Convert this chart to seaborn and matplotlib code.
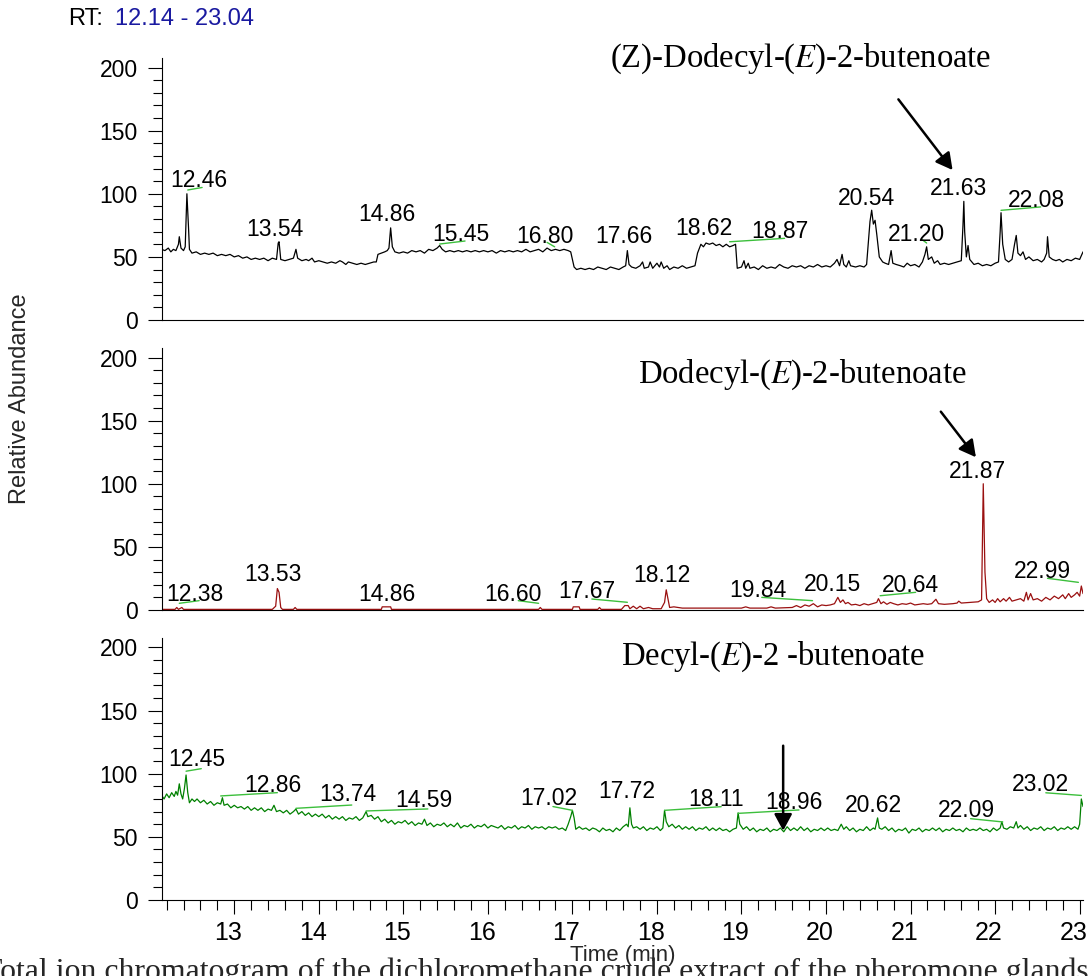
import matplotlib
matplotlib.use("Agg")
import matplotlib.pyplot as plt
from matplotlib.ticker import MultipleLocator
from matplotlib.transforms import ScaledTranslation
import pandas as pd
import seaborn as sns

# ── Data ──────────────────────────────────────────────────────────────────────
# Trace A: (Z)-Dodecyl-(E)-2-butenoate run, (time min, relative abundance)
TRACE_A = [
    (12.14, 56), (12.18, 55), (12.22, 57), (12.25, 54), (12.28, 56), (12.31, 55), (12.34, 60),
    (12.35, 66), (12.37, 57), (12.40, 55), (12.42, 58), (12.44, 100), (12.46, 72), (12.47, 56),
    (12.50, 53), (12.55, 54), (12.60, 52), (12.65, 53), (12.70, 52), (12.75, 53), (12.80, 51),
    (12.85, 52), (12.90, 51), (12.95, 52), (13.00, 50), (13.05, 51), (13.10, 49), (13.15, 50),
    (13.20, 48), (13.25, 49), (13.30, 48), (13.35, 49), (13.40, 47), (13.45, 49), (13.50, 48),
    (13.52, 61), (13.53, 62), (13.55, 48), (13.60, 47), (13.65, 48), (13.70, 49), (13.73, 56),
    (13.75, 49), (13.80, 47), (13.85, 48), (13.88, 47), (13.92, 49), (13.95, 46), (14.00, 47),
    (14.05, 46), (14.10, 45), (14.15, 46), (14.20, 45), (14.25, 47), (14.28, 46), (14.32, 44),
    (14.35, 46), (14.40, 45), (14.45, 44), (14.50, 45), (14.55, 44), (14.60, 45), (14.65, 46),
    (14.68, 46), (14.70, 52), (14.74, 53), (14.78, 54), (14.81, 55), (14.83, 57), (14.85, 73),
    (14.87, 58), (14.90, 54), (14.95, 53), (15.00, 54), (15.05, 53), (15.10, 55), (15.15, 54),
    (15.20, 55), (15.25, 53), (15.30, 56), (15.35, 55), (15.40, 57), (15.43, 59), (15.46, 56),
    (15.50, 54), (15.55, 55), (15.60, 54), (15.65, 55), (15.70, 54), (15.75, 55), (15.80, 54),
    (15.85, 55), (15.90, 54), (15.95, 55), (16.00, 54), (16.05, 55), (16.10, 53), (16.15, 55),
    (16.20, 54), (16.25, 55), (16.30, 54), (16.35, 55), (16.40, 54), (16.45, 56), (16.50, 54),
    (16.55, 55), (16.60, 56), (16.65, 54), (16.70, 57), (16.75, 55), (16.80, 56), (16.85, 55),
    (16.90, 56), (16.95, 55), (16.98, 54), (17.02, 42), (17.05, 40), (17.10, 41), (17.15, 40),
    (17.20, 41), (17.25, 40), (17.30, 42), (17.35, 41), (17.40, 40), (17.45, 42), (17.50, 41),
    (17.55, 40), (17.60, 42), (17.63, 43), (17.65, 55), (17.67, 44), (17.70, 42), (17.75, 41),
    (17.80, 43), (17.83, 46), (17.85, 41), (17.90, 42), (17.92, 46), (17.95, 41), (18.00, 45),
    (18.03, 42), (18.05, 46), (18.08, 41), (18.12, 43), (18.15, 40), (18.20, 42), (18.25, 41),
    (18.30, 43), (18.35, 41), (18.40, 42), (18.45, 43), (18.48, 53), (18.52, 60), (18.55, 58),
    (18.58, 61), (18.62, 60), (18.66, 61), (18.70, 59), (18.74, 60), (18.78, 58), (18.82, 60),
    (18.86, 58), (18.90, 59), (18.93, 60), (18.95, 41), (19.00, 42), (19.03, 47), (19.05, 41),
    (19.08, 45), (19.10, 41), (19.15, 42), (19.20, 40), (19.25, 43), (19.30, 41), (19.35, 42),
    (19.40, 41), (19.45, 44), (19.50, 42), (19.55, 41), (19.60, 43), (19.65, 42), (19.70, 43),
    (19.75, 41), (19.80, 43), (19.85, 42), (19.90, 44), (19.95, 42), (20.00, 43), (20.05, 42),
    (20.10, 45), (20.13, 48), (20.16, 43), (20.19, 52), (20.21, 44), (20.24, 42), (20.27, 47),
    (20.29, 43), (20.35, 42), (20.40, 43), (20.45, 42), (20.48, 44), (20.52, 78), (20.54, 87),
    (20.56, 76), (20.58, 79), (20.60, 68), (20.63, 50), (20.67, 46), (20.70, 45), (20.74, 44),
    (20.77, 55), (20.79, 45), (20.83, 44), (20.88, 43), (20.92, 42), (20.96, 45), (21.00, 43),
    (21.05, 44), (21.10, 42), (21.14, 46), (21.17, 52), (21.19, 58), (21.21, 48), (21.25, 50),
    (21.28, 45), (21.32, 47), (21.35, 44), (21.40, 45), (21.45, 44), (21.50, 45), (21.55, 46),
    (21.60, 47), (21.62, 75), (21.63, 94), (21.64, 70), (21.66, 50), (21.68, 59), (21.70, 48),
    (21.75, 44), (21.80, 45), (21.85, 43), (21.90, 44), (21.95, 43), (22.00, 45), (22.04, 46),
    (22.06, 70), (22.07, 85), (22.09, 60), (22.12, 48), (22.16, 46), (22.20, 48), (22.23, 60),
    (22.25, 67), (22.27, 53), (22.30, 51), (22.33, 54), (22.36, 48), (22.40, 50), (22.45, 47),
    (22.50, 48), (22.55, 46), (22.58, 48), (22.61, 53), (22.62, 66), (22.64, 50), (22.68, 48),
    (22.72, 47), (22.76, 48), (22.80, 46), (22.85, 48), (22.90, 47), (22.95, 49), (23.00, 48),
    (23.04, 54),
]

# Trace B: Dodecyl-(E)-2-butenoate run
TRACE_B = [
    (12.14, 0.5), (12.30, 0.5), (12.32, 2), (12.34, 0.5), (12.38, 2), (12.40, 0.5), (13.45, 0.5),
    (13.49, 3), (13.51, 17), (13.53, 14), (13.55, 2), (13.57, 0.5), (13.70, 0.5), (13.72, 2),
    (13.74, 0.5), (14.74, 0.5), (14.75, 2.5), (14.85, 2.5), (14.86, 0.5), (16.60, 0.5), (16.62, 2),
    (16.64, 0.5), (17.00, 0.5), (17.01, 2.5), (17.08, 2.5), (17.09, 0.5), (17.30, 0.5), (17.32, 2),
    (17.34, 0.5), (17.58, 0.5), (17.62, 3.5), (17.66, 3.5), (17.68, 1), (17.72, 3), (17.76, 1),
    (17.80, 3), (17.84, 1), (17.90, 2), (17.95, 1), (18.05, 1), (18.09, 6), (18.11, 16), (18.13, 9),
    (18.15, 2), (18.20, 2.5), (18.30, 1.5), (18.50, 1.5), (19.00, 1.5), (19.05, 2.5), (19.10, 1.5),
    (19.30, 1.5), (19.35, 2.5), (19.40, 1.5), (19.60, 2), (19.65, 3.5), (19.70, 2), (19.75, 4),
    (19.80, 3), (19.85, 5), (19.90, 2.5), (19.95, 4), (20.00, 3.5), (20.05, 4), (20.10, 5),
    (20.14, 10), (20.17, 6), (20.20, 8), (20.23, 5), (20.26, 6), (20.30, 4), (20.35, 4.5),
    (20.40, 3.5), (20.45, 5), (20.50, 4), (20.55, 5), (20.60, 6), (20.62, 9), (20.65, 5),
    (20.68, 6.5), (20.72, 4.5), (20.76, 6), (20.80, 5), (20.85, 4), (20.90, 5), (20.95, 4.5),
    (21.00, 5.5), (21.05, 4), (21.10, 4.5), (21.15, 5), (21.20, 4.5), (21.25, 5), (21.30, 8.5),
    (21.33, 5), (21.40, 4.5), (21.50, 5), (21.55, 5.5), (21.57, 7), (21.60, 5.5), (21.70, 6),
    (21.80, 6.5), (21.84, 8), (21.86, 100), (21.88, 30), (21.90, 9), (21.93, 6), (21.97, 8),
    (22.00, 6), (22.03, 9), (22.06, 6.5), (22.10, 9), (22.13, 7), (22.17, 10), (22.20, 7),
    (22.25, 8), (22.30, 9), (22.34, 7), (22.37, 14), (22.39, 8), (22.42, 13), (22.45, 8),
    (22.50, 9), (22.55, 7), (22.60, 10), (22.65, 8), (22.70, 11), (22.75, 9), (22.80, 12),
    (22.83, 9), (22.87, 13), (22.90, 10), (22.94, 12), (22.97, 14), (23.00, 11), (23.02, 19),
    (23.04, 13),
]

# Trace C: Decyl-(E)-2-butenoate run
TRACE_C = [
    (12.14, 83), (12.17, 80), (12.20, 84), (12.23, 81), (12.26, 85), (12.29, 82), (12.31, 86),
    (12.33, 83), (12.35, 92), (12.37, 84), (12.39, 80), (12.41, 88), (12.43, 99), (12.45, 85),
    (12.47, 77), (12.50, 80), (12.53, 78), (12.56, 80), (12.60, 77), (12.64, 79), (12.68, 76),
    (12.72, 78), (12.76, 75), (12.80, 77), (12.84, 76), (12.86, 81), (12.88, 75), (12.92, 76),
    (12.96, 73), (13.00, 75), (13.04, 73), (13.08, 74), (13.12, 72), (13.16, 74), (13.20, 71),
    (13.24, 73), (13.28, 71), (13.32, 73), (13.36, 70), (13.40, 72), (13.44, 71), (13.47, 75),
    (13.50, 70), (13.54, 71), (13.58, 69), (13.62, 71), (13.66, 68), (13.70, 70), (13.73, 72),
    (13.76, 68), (13.80, 70), (13.84, 67), (13.88, 69), (13.92, 66), (13.96, 68), (14.00, 66),
    (14.04, 68), (14.08, 65), (14.12, 67), (14.16, 64), (14.20, 66), (14.24, 64), (14.28, 66),
    (14.32, 63), (14.36, 65), (14.40, 64), (14.44, 66), (14.48, 63), (14.52, 65), (14.56, 70),
    (14.58, 66), (14.62, 67), (14.66, 64), (14.70, 66), (14.74, 62), (14.78, 64), (14.82, 61),
    (14.86, 63), (14.90, 60), (14.94, 62), (14.98, 61), (15.02, 63), (15.06, 60), (15.10, 62),
    (15.14, 59), (15.18, 61), (15.22, 60), (15.25, 64), (15.28, 59), (15.32, 61), (15.36, 58),
    (15.40, 60), (15.44, 59), (15.48, 61), (15.52, 58), (15.56, 60), (15.60, 58), (15.64, 61),
    (15.68, 57), (15.72, 59), (15.76, 58), (15.80, 60), (15.84, 57), (15.88, 59), (15.92, 58),
    (15.96, 60), (16.00, 57), (16.04, 59), (16.08, 58), (16.12, 57), (16.16, 59), (16.20, 56),
    (16.24, 58), (16.28, 57), (16.32, 59), (16.36, 56), (16.40, 58), (16.44, 57), (16.48, 59),
    (16.52, 56), (16.56, 58), (16.60, 57), (16.64, 58), (16.68, 56), (16.72, 58), (16.76, 57),
    (16.80, 58), (16.84, 56), (16.88, 57), (16.92, 55), (16.95, 60), (16.98, 66), (17.00, 71),
    (17.02, 65), (17.04, 56), (17.08, 58), (17.12, 56), (17.16, 57), (17.20, 55), (17.24, 57),
    (17.28, 56), (17.32, 54), (17.36, 57), (17.40, 55), (17.44, 56), (17.48, 54), (17.52, 57),
    (17.56, 55), (17.60, 58), (17.64, 60), (17.66, 58), (17.68, 73), (17.70, 60), (17.72, 57),
    (17.76, 58), (17.80, 56), (17.84, 58), (17.88, 55), (17.92, 57), (17.96, 56), (18.00, 58),
    (18.04, 55), (18.07, 57), (18.09, 71), (18.11, 62), (18.14, 58), (18.18, 60), (18.22, 57),
    (18.26, 59), (18.30, 56), (18.34, 58), (18.38, 56), (18.42, 58), (18.46, 55), (18.50, 57),
    (18.54, 56), (18.58, 58), (18.62, 55), (18.66, 57), (18.70, 55), (18.74, 57), (18.78, 55),
    (18.82, 56), (18.86, 54), (18.90, 56), (18.94, 57), (18.96, 69), (18.98, 60), (19.02, 56),
    (19.06, 58), (19.10, 55), (19.14, 57), (19.18, 54), (19.22, 56), (19.26, 55), (19.30, 57),
    (19.34, 54), (19.38, 56), (19.42, 55), (19.46, 57), (19.50, 54), (19.54, 58), (19.58, 55),
    (19.62, 57), (19.66, 55), (19.70, 58), (19.74, 55), (19.78, 57), (19.82, 54), (19.86, 56),
    (19.90, 55), (19.94, 57), (19.98, 55), (20.02, 57), (20.06, 55), (20.10, 56), (20.14, 55),
    (20.18, 60), (20.21, 56), (20.24, 58), (20.28, 55), (20.32, 57), (20.36, 54), (20.40, 56),
    (20.44, 55), (20.48, 58), (20.52, 55), (20.56, 57), (20.58, 56), (20.61, 65), (20.63, 57),
    (20.66, 56), (20.70, 58), (20.74, 55), (20.78, 57), (20.82, 54), (20.86, 56), (20.90, 55),
    (20.94, 57), (20.98, 53), (21.02, 56), (21.06, 55), (21.10, 57), (21.14, 54), (21.18, 56),
    (21.22, 55), (21.26, 57), (21.30, 55), (21.34, 57), (21.38, 54), (21.42, 56), (21.46, 55),
    (21.50, 57), (21.54, 55), (21.58, 56), (21.62, 54), (21.66, 57), (21.70, 55), (21.74, 56),
    (21.78, 55), (21.82, 57), (21.86, 55), (21.90, 56), (21.94, 54), (21.98, 57), (22.02, 55),
    (22.06, 57), (22.08, 62), (22.10, 57), (22.14, 56), (22.18, 58), (22.22, 57), (22.25, 62),
    (22.27, 57), (22.30, 59), (22.34, 56), (22.38, 58), (22.42, 55), (22.46, 57), (22.50, 56),
    (22.54, 58), (22.58, 55), (22.62, 57), (22.66, 56), (22.70, 58), (22.74, 55), (22.78, 57),
    (22.82, 56), (22.86, 58), (22.90, 56), (22.94, 58), (22.98, 56), (23.00, 60), (23.02, 80),
    (23.04, 74),
]

# Peak labels: (text, time of label centre, abundance at label baseline)
LABELS_A = [
    ("12.46", 12.58, 105), ("13.54", 13.48, 66.8), ("14.86", 14.81, 78.7), ("15.45", 15.68, 62.8),
    ("16.80", 16.68, 61), ("17.66", 17.61, 61), ("18.62", 18.55, 67), ("18.87", 19.46, 65),
    ("20.54", 20.48, 91.5), ("21.20", 21.07, 62.8), ("21.63", 21.57, 99.2), ("22.08", 22.49, 89.6),
]
LABELS_B = [
    ("12.38", 12.535, 7.1), ("13.53", 13.46, 23.2), ("14.86", 14.81, 7.4), ("16.60", 16.30, 7.1),
    ("17.67", 17.175, 9.2), ("18.12", 18.06, 22.4), ("19.84", 19.19, 10), ("20.15", 20.075, 15.3),
    ("20.64", 21.0, 14), ("21.87", 21.79, 104.3), ("22.99", 22.56, 25.1),
]
LABELS_C = [
    ("12.45", 12.555, 105.9), ("12.86", 13.46, 85.3), ("13.74", 14.34, 78.7), ("14.59", 15.24, 73.4),
    ("17.02", 16.72, 75.2), ("17.72", 17.64, 80.8), ("18.11", 18.70, 74.7), ("18.96", 19.62, 72.1),
    ("20.62", 20.56, 69.5), ("22.09", 21.66, 65.5), ("23.02", 22.54, 86.6),
]

# Green leader lines from label to peak: (t0, v0, t1, v1)
LEADERS_A = [
    (12.45, 103, 12.62, 105), (15.43, 60.2, 15.73, 62.6), (16.70, 61.5, 16.79, 58),
    (18.86, 62, 19.51, 64.7), (21.14, 63.5, 21.19, 61), (22.07, 86.9, 22.54, 89.6),
]
LEADERS_B = [
    (12.35, 5.3, 12.585, 7.4), (16.36, 7.4, 16.60, 5.3), (17.23, 8.7, 17.65, 6.1),
    (19.24, 10, 19.84, 7.4), (20.64, 11.3, 21.06, 14), (22.62, 25.1, 22.985, 21.9),
]
LEADERS_C = [
    (12.43, 102, 12.61, 104), (12.84, 82.4, 13.51, 85), (13.73, 72.6, 14.39, 75.2),
    (14.56, 70.5, 15.29, 72.1), (16.77, 74, 17.00, 71), (18.09, 71, 18.76, 73.9),
    (18.96, 68.6, 19.68, 71.3), (21.71, 64.4, 22.09, 61.8), (22.60, 84.9, 23.02, 82.8),
]

# Compound names, their position, and the arrow (tail -> head) pointing at the peak
COMPOUNDS = [
    r"(Z)-Dodecyl-($\mathit{E}$)-2-butenoate",
    r"Dodecyl-($\mathit{E}$)-2-butenoate",
    r"Decyl-($\mathit{E}$)-2 -butenoate",
]
COMPOUND_POS = [(19.70, 200.6), (19.72, 179.6), (19.38, 186.5)]
ARROWS = [((20.856, 174.8), (21.497, 118.8)),
          ((21.358, 157.1), (21.773, 121.0)),
          ((19.493, 122.2), (19.493, 54.9))]

TRACES = [TRACE_A, TRACE_B, TRACE_C]
LABELS = [LABELS_A, LABELS_B, LABELS_C]
LEADERS = [LEADERS_A, LEADERS_B, LEADERS_C]
TRACE_COLORS = ["black", "#9a1010", "#008000"]
LEADER_COLOR = "#3cbf3c"

X_RANGE = (12.14, 23.04)
Y_RANGE = (0, 207.5)

# ── Plot ─────────────────────────────────────────────────────────────────────
sns.set_theme(style="white")
plt.rcParams["font.family"] = ["Liberation Sans", "DejaVu Sans"]
plt.rcParams["mathtext.fontset"] = "stix"

fig = plt.figure(figsize=(10.9, 9.76), dpi=100)

left, width, height = 0.1482, 0.8454, 0.2684
bottoms = [0.6721, 0.3750, 0.0779]

axes = []
for i, bottom in enumerate(bottoms):
    ax = fig.add_axes([left, bottom, width, height])
    df = pd.DataFrame(TRACES[i], columns=["time", "abundance"])
    sns.lineplot(data=df, x="time", y="abundance", ax=ax, color=TRACE_COLORS[i],
                 linewidth=0.9, estimator=None, sort=False)

    for t0, v0, t1, v1 in LEADERS[i]:
        ax.plot([t0, t1], [v0, v1], color=LEADER_COLOR, linewidth=1.0)
    for text, t, v in LABELS[i]:
        ax.text(t, v, text, ha="center", va="baseline", fontsize=16.5, color="black")

    name_t, name_v = COMPOUND_POS[i]
    ax.text(name_t, name_v, COMPOUNDS[i], ha="center", va="baseline", fontsize=23.5,
            family=["Liberation Serif", "DejaVu Serif"], color="black")
    (tail, head) = ARROWS[i]
    ax.annotate("", xy=head, xytext=tail,
                arrowprops=dict(arrowstyle="-|>,head_length=0.5,head_width=0.27",
                                mutation_scale=20, lw=1.8, color="black",
                                shrinkA=0, shrinkB=0))

    ax.set_xlim(*X_RANGE)
    ax.set_ylim(*Y_RANGE)
    ax.set_xlabel("")
    ax.set_ylabel("")
    ax.set_yticks([0, 50, 100, 150, 200])
    ax.yaxis.set_minor_locator(MultipleLocator(10))
    ax.tick_params(axis="y", which="major", direction="out", length=10, width=0.8,
                   labelsize=16.5, pad=7, left=True, colors="black")
    ax.tick_params(axis="y", which="minor", direction="out", length=6.5, width=0.8,
                   left=True, color="black")
    for side in ["top", "right"]:
        ax.spines[side].set_visible(False)
    for side in ["left", "bottom"]:
        ax.spines[side].set_color("black")
        ax.spines[side].set_linewidth(0.8)
    ax.set_facecolor("none")
    axes.append(ax)

for ax in axes[:2]:
    ax.set_xticks([])
    ax.tick_params(axis="x", which="both", bottom=False, labelbottom=False)

ax3 = axes[2]
ax3.set_xticks(range(13, 24))
ax3.xaxis.set_minor_locator(MultipleLocator(0.2))
ax3.tick_params(axis="x", which="major", direction="out", length=10, width=0.8,
                labelsize=18, pad=5, bottom=True, colors="black")
ax3.tick_params(axis="x", which="minor", direction="out", length=7, width=0.8,
                bottom=True, color="black")
# the instrument software draws its time labels a few pixels left of the ticks
shift = ScaledTranslation(-6 / 100, 0, fig.dpi_scale_trans)
for lab in ax3.get_xticklabels():
    lab.set_transform(lab.get_transform() + shift)
ax3.set_xlabel("Time (min)", fontsize=16)
ax3.xaxis.set_label_coords(0.5, -0.172)
ax3.xaxis.label.set_va("top")

fig.text(20 / 1090, 0.592, "Relative Abundance", rotation=90, ha="center", va="center",
         fontsize=17)
fig.text(68 / 1090, 0.9744, "RT:", ha="left", va="baseline", fontsize=17, color="black")
fig.text(115 / 1090, 0.9744, "12.14 - 23.04", ha="left", va="baseline", fontsize=17,
         color="#1a1aa0")

fig.text(-17 / 1090, -0.004,
         "Total ion chromatogram of the dichloromethane crude extract of the pheromone glands",
         ha="left", va="baseline", fontsize=22.9, family=["Liberation Serif", "DejaVu Serif"])

fig.savefig("out.png", dpi=100)
plt.close(fig)
